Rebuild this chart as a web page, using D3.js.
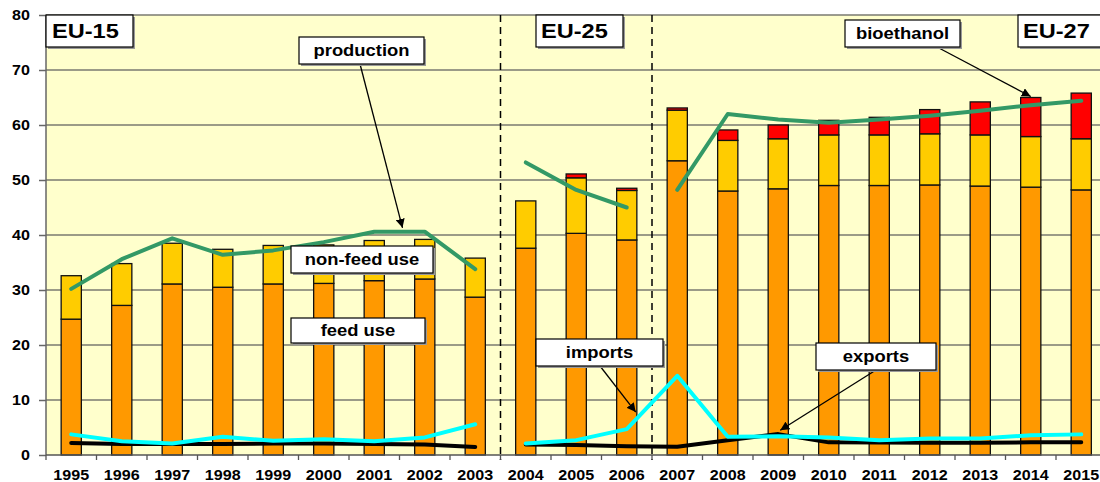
<!DOCTYPE html>
<html>
<head>
<meta charset="utf-8">
<script src="https://cdn.jsdelivr.net/npm/d3@7"></script>
<style>
  body { margin: 0; background: #fff; }
  text { font-family: Arial, "Liberation Sans", sans-serif; font-weight: bold; }
</style>
</head>
<body>
<div id="chart"></div>
<script>
// values (million t)
const years = ["1995","1996","1997","1998","1999","2000","2001","2002","2003","2004","2005",
               "2006","2007","2008","2009","2010","2011","2012","2013","2014","2015"];
const feedUse    = [24.7, 27.2, 31.1, 30.5, 31.1, 31.2, 31.7, 32.0, 28.7, 37.6, 40.3, 39.1, 53.5, 48.0, 48.4, 49.0, 49.0, 49.1, 48.9, 48.7, 48.2];
const nonFeedUse = [7.9, 7.6, 7.4, 6.9, 7.0, 7.0, 7.3, 7.2, 7.1, 8.6, 10.1, 9.0, 9.2, 9.2, 9.1, 9.2, 9.2, 9.3, 9.3, 9.2, 9.3];
const bioethanol = [0, 0, 0, 0, 0, 0, 0, 0, 0, 0, 0.7, 0.4, 0.4, 1.9, 2.5, 2.65, 3.2, 4.4, 6.0, 7.1, 8.3];
const production = [30.2, 35.6, 39.4, 36.4, 37.2, 38.7, 40.6, 40.6, 33.8, 53.2, 48.2, 45.0, 48.2, 62.0, 61.0, 60.4, 61.0, 61.7, 62.6, 63.6, 64.4];
const imports    = [3.75, 2.5, 2.1, 3.3, 2.6, 2.85, 2.5, 3.2, 5.6, 2.1, 2.7, 4.7, 14.4, 3.3, 3.4, 3.2, 2.7, 3.0, 3.0, 3.6, 3.75];
const exportsData = [2.2, 2.0, 2.0, 2.0, 2.1, 2.1, 2.0, 1.9, 1.45, 1.9, 1.8, 1.6, 1.5, 2.7, 3.8, 2.3, 2.25, 2.25, 2.25, 2.3, 2.3];
const yTicks = [0, 10, 20, 30, 40, 50, 60, 70, 80];

// EU-15 / EU-25 / EU-27 blocks
const periods = [
  {name: "EU-15", first: "1995", last: "2003"},
  {name: "EU-25", first: "2004", last: "2006"},
  {name: "EU-27", first: "2007", last: "2015"}
];
const tradeBlocks = [["1995", "2003"], ["2004", "2015"]];

const width = 1100, height = 482;
const plotLeft = 46, plotTop = 15, plotBottom = 455;
const bandW = 50.5;
const SX = 1.15; // the picture's text is a bit wide

const x = d3.scaleBand().domain(years).range([plotLeft, plotLeft + years.length * bandW]);
const y = d3.scaleLinear().domain([0, 80]).range([plotBottom, plotTop]);

const svg = d3.select("#chart").append("svg")
  .attr("width", width).attr("height", height)
  .attr("viewBox", `0 0 ${width} ${height}`);

// plot background
svg.append("rect")
  .attr("x", plotLeft).attr("y", plotTop)
  .attr("width", x.range()[1] - plotLeft).attr("height", plotBottom - plotTop)
  .attr("fill", "#ffffcc");

// grid
svg.append("g").selectAll("line")
  .data(yTicks.filter(d => d > 0))
  .join("line")
  .attr("x1", plotLeft).attr("x2", x.range()[1])
  .attr("y1", d => y(d)).attr("y2", d => y(d))
  .attr("stroke", "#7a7a70").attr("stroke-width", 1.4);

// stacked bars
const rows = years.map((yr, i) => ({year: yr, feed: feedUse[i], nonFeed: nonFeedUse[i], bio: bioethanol[i]}));
const stack = d3.stack().keys(["feed", "nonFeed", "bio"])(rows);
const colors = {feed: "#ff9900", nonFeed: "#ffcc00", bio: "#ff0000"};
const barW = x.bandwidth() * 0.4;

svg.append("g").selectAll("g")
  .data(stack)
  .join("g")
  .attr("fill", d => colors[d.key])
  .selectAll("rect")
  .data(d => d.filter(p => p[1] - p[0] > 0))
  .join("rect")
  .attr("x", d => x(d.data.year) + (x.bandwidth() - barW) / 2)
  .attr("width", barW)
  .attr("y", d => y(d[1]))
  .attr("height", d => y(d[0]) - y(d[1]))
  .attr("stroke", "#111").attr("stroke-width", 1.3);

// dashed separators between blocks
svg.append("g").selectAll("line")
  .data(periods.slice(1))
  .join("line")
  .attr("x1", d => x(d.first)).attr("x2", d => x(d.first))
  .attr("y1", plotTop).attr("y2", plotBottom + 5)
  .attr("stroke", "#000").attr("stroke-width", 1.5)
  .attr("stroke-dasharray", "7,5");

// lines
const cx = yr => x(yr) + x.bandwidth() / 2;
function drawSeries(values, blocks, color, w) {
  const line = d3.line().x(d => cx(d.year)).y(d => y(d.v));
  blocks.forEach(([a, b]) => {
    const i0 = years.indexOf(a), i1 = years.indexOf(b);
    const pts = d3.range(i0, i1 + 1).map(i => ({year: years[i], v: values[i]}));
    svg.append("path")
      .datum(pts)
      .attr("d", line)
      .attr("fill", "none")
      .attr("stroke", color)
      .attr("stroke-width", w)
      .attr("stroke-linejoin", "round")
      .attr("stroke-linecap", "round");
  });
}
drawSeries(exportsData, tradeBlocks, "#000000", 4);
drawSeries(imports, tradeBlocks, "#00ffff", 4);
drawSeries(production, periods.map(p => [p.first, p.last]), "#339966", 4);

// axes
svg.append("line")
  .attr("x1", plotLeft).attr("x2", plotLeft).attr("y1", plotTop).attr("y2", plotBottom)
  .attr("stroke", "#666").attr("stroke-width", 1.5);
svg.append("line")
  .attr("x1", plotLeft).attr("x2", x.range()[1]).attr("y1", plotBottom).attr("y2", plotBottom)
  .attr("stroke", "#555").attr("stroke-width", 1.5);

const yAxis = svg.append("g")
  .attr("transform", `translate(${plotLeft},0)`)
  .call(d3.axisLeft(y).tickValues(yTicks).tickSize(7).tickPadding(7));
yAxis.select(".domain").remove();
yAxis.selectAll("line").attr("stroke", "#666").attr("stroke-width", 1.5);
yAxis.selectAll("text")
  .attr("fill", "#000").attr("font-size", 14)
  .style("font-family", "Arial, 'Liberation Sans', sans-serif").style("font-weight", "bold")
  .attr("transform", `scale(${SX},1)`);

const xAxis = svg.append("g")
  .attr("transform", `translate(0,${plotBottom})`)
  .call(d3.axisBottom(x).tickSize(0));
xAxis.select(".domain").remove();
xAxis.selectAll("text")
  .attr("y", 25).attr("dy", 0)
  .attr("fill", "#000").attr("font-size", 14)
  .style("font-family", "Arial, 'Liberation Sans', sans-serif").style("font-weight", "bold")
  .attr("transform", `scale(${SX},1)`);

// boundary ticks
svg.append("g").selectAll("line")
  .data(years.map(yr => x(yr)).concat([x.range()[1]]))
  .join("line")
  .attr("x1", d => d).attr("x2", d => d)
  .attr("y1", plotBottom).attr("y2", plotBottom + 5)
  .attr("stroke", "#555").attr("stroke-width", 1.3);

// annotation boxes
function box(x0, y0, x1, y1, label, size, anchorX) {
  const g = svg.append("g");
  g.append("rect")
    .attr("x", x0 + 2).attr("y", y0 + 2).attr("width", x1 - x0).attr("height", y1 - y0)
    .attr("fill", "#9a9a9a");
  g.append("rect")
    .attr("x", x0).attr("y", y0).attr("width", x1 - x0).attr("height", y1 - y0)
    .attr("fill", "#fff").attr("stroke", "#000").attr("stroke-width", 1.2);
  const tx = anchorX != null ? anchorX : (x0 + x1) / 2;
  g.append("text")
    .attr("transform", `translate(${tx},${(y0 + y1) / 2}) scale(${SX},1)`)
    .attr("text-anchor", anchorX != null ? "start" : "middle")
    .attr("dy", "0.36em")
    .attr("font-size", size)
    .attr("fill", "#000")
    .text(label);
}

svg.append("defs").append("marker")
  .attr("id", "arrow").attr("viewBox", "0 0 10 10")
  .attr("refX", 10).attr("refY", 5)
  .attr("markerWidth", 9).attr("markerHeight", 9)
  .attr("markerUnits", "userSpaceOnUse")
  .attr("orient", "auto")
  .append("path").attr("d", "M0,0L10,5L0,10z").attr("fill", "#000");

function arrow(x0, y0, x1, y1) {
  svg.append("line")
    .attr("x1", x0).attr("y1", y0).attr("x2", x1).attr("y2", y1)
    .attr("stroke", "#000").attr("stroke-width", 1.3)
    .attr("marker-end", "url(#arrow)");
}

arrow(360, 64, x("2002") + 3, y(41.3));
arrow(937, 47, cx("2014"), y(65.0) - 1);
arrow(600, 366, cx("2006") + 9, y(7.8));
arrow(876, 370, cx("2009") + 2, y(4.5));

box(46, 15, 133, 47, "EU-15", 20.5, 52);
box(536, 15, 623, 47, "EU-25", 20.5, 541);
box(1018, 15, 1106, 47, "EU-27", 20.5, 1023);
box(299, 37, 424, 64, "production", 16);
box(845, 20, 960, 47, "bioethanol", 16);
box(291, 246, 433, 273, "non-feed use", 16);
box(291, 318, 425, 343, "feed use", 16);
box(536, 339, 663, 366, "imports", 16);
box(816, 343, 936, 370, "exports", 16);
</script>
</body>
</html>
